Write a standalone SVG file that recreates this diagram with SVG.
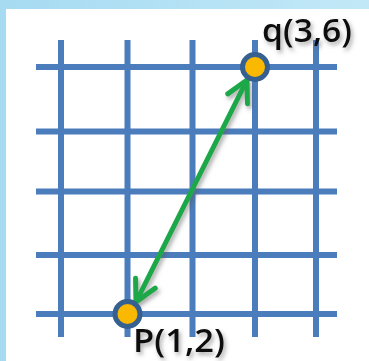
<svg xmlns="http://www.w3.org/2000/svg" width="369" height="361" viewBox="0 0 369 361">
  <defs>
    <linearGradient id="topband" x1="0" y1="0" x2="1" y2="0">
      <stop offset="0" stop-color="#a6dbf2"/>
      <stop offset="1" stop-color="#c2e8f7"/>
    </linearGradient>
    <filter id="shadow" x="-20%" y="-20%" width="140%" height="160%">
      <feDropShadow dx="2" dy="3" stdDeviation="2" flood-color="#555" flood-opacity="0.5"/>
    </filter>
    <marker id="chev" viewBox="-26 -16 30 32" markerWidth="30" markerHeight="32" refX="0" refY="0" orient="auto-start-reverse" markerUnits="userSpaceOnUse">
      <path d="M-21,-11 L0,0 L-21,11" fill="none" stroke="#1ea84a" stroke-width="5" stroke-linecap="round" stroke-linejoin="round"/>
    </marker>
  </defs>
  <style>
    .grid line { stroke: #4b7dbd; stroke-width: 6; }
    .pt { fill: #fbb800; stroke: #36608f; stroke-width: 5; }
    .lbl { font-family: "Open Sans", "Liberation Sans", Arial, sans-serif; font-weight: 600; font-size: 32px; fill: #111; filter: url(#shadow); }
    .conn { stroke: #1ea84a; stroke-width: 5; stroke-linecap: round; fill: none; }
  </style>
  <rect x="0" y="0" width="369" height="361" fill="#ffffff"/>
  <rect x="0" y="0" width="369" height="9" fill="url(#topband)"/>
  <rect x="0" y="0" width="6" height="361" fill="#a6dbf2"/>
  <g id="grid" class="grid">
    <line x1="36" y1="67" x2="337" y2="67"/>
    <line x1="36" y1="131.5" x2="337" y2="131.5"/>
    <line x1="36" y1="191.5" x2="337" y2="191.5"/>
    <line x1="36" y1="255" x2="337" y2="255"/>
    <line x1="36" y1="314" x2="337" y2="314"/>
    <line x1="61" y1="40" x2="61" y2="337"/>
    <line x1="127.5" y1="40" x2="127.5" y2="337"/>
    <line x1="192.5" y1="40" x2="192.5" y2="337"/>
    <line x1="255" y1="40" x2="255" y2="337"/>
    <line x1="316" y1="40" x2="316" y2="337"/>
  </g>
  <g id="connectors">
    <line class="conn" x1="136" y1="302" x2="247" y2="80" marker-start="url(#chev)" marker-end="url(#chev)" filter="url(#shadow)"/>
  </g>
  <g id="node-q">
    <circle class="pt" cx="255" cy="67" r="12.5"/>
    <text class="lbl" x="262" y="42" textLength="90" lengthAdjust="spacingAndGlyphs">q(3,6)</text>
  </g>
  <g id="node-p">
    <circle class="pt" cx="127.5" cy="314" r="12.5"/>
    <text class="lbl" x="133" y="352" textLength="92" lengthAdjust="spacingAndGlyphs">P(1,2)</text>
  </g>
</svg>
